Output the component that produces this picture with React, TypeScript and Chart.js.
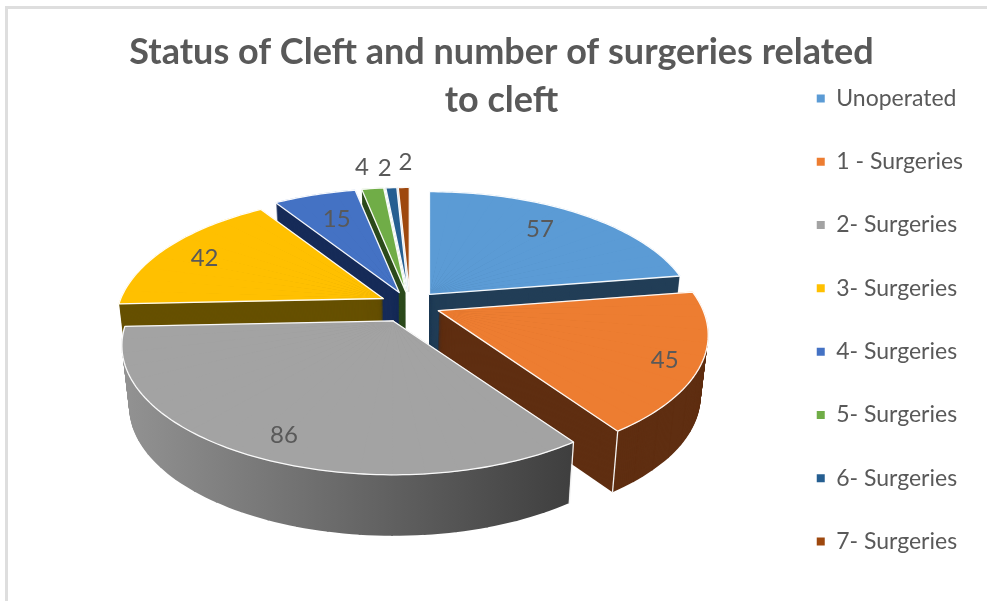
import React, { useEffect, useRef } from "react";
import { Chart, registerables } from "chart.js";

Chart.register(...registerables);

const titleLines = ["Status of Cleft and number of surgeries related", "to cleft"];
const categories = ["Unoperated", "1 - Surgeries", "2- Surgeries", "3- Surgeries", "4- Surgeries", "5- Surgeries", "6- Surgeries", "7- Surgeries"];
const values = [57, 45, 86, 42, 15, 4, 2, 2];
const topColors = ["#5b9bd5", "#ed7d31", "#a3a3a3", "#ffc000", "#4472c4", "#70ad47", "#255e91", "#9e480e"];
const sideColors: (string | string[] | null)[] = ["#223e57", "#5f2e11", ["#929292", "#3e3e3e"], "#665000", "#162b58", "#2c4a1c", null, null];
const explodeRatio = [0.115, 0.115, 0.14, 0.115, 0.11, 0.11, 0.11, 0.11];
const radiusScale = [0.985, 1, 1.005, 0.99, 1, 1, 1, 1];
const labelRadius = [0.78, 0.89, 0.82, 0.83, 0.74, 1.2, 1.21, 1.24];
const labelNudge: [number, number][] = [[-7, -1], [-8, 3], [7, 4], [1, 3], [0, -1], [-4, -1], [-3, 2], [3, 0]];
const paintOrder = [7, 6, 5, 4, 3, 0, 1, 2];

const TEXT = "#595959";
const FONT = "Lato";
const view = { cx: 410, cy: 305, rx: 265, ry: 124, persp: 0.19, depth: 61, shrink: 0.025, gradX0: 125, gradX1: 575 };

type Pt = [number, number];
const project = (X: number, Y: number): Pt => {
  const w = 1 - view.persp * Y;
  return [(view.rx * X) / w, (view.ry * Y) / w];
};
const lift = (p: Pt, t: number): Pt => [view.cx + (p[0] - view.cx) * (1 - view.shrink * t), p[1] + view.depth * t];

const pie3d = {
  id: "pie3d",
  beforeDatasetsDraw(chart: any) {
    const ctx: CanvasRenderingContext2D = chart.ctx;
    const arcs = chart.getDatasetMeta(0).data;

    const apexOf = (arc: any, i: number): Pt => {
      const mid = (arc.startAngle + arc.endAngle) / 2;
      const e = explodeRatio[i];
      const d = project(e * Math.cos(mid), e * Math.sin(mid));
      return [view.cx + d[0], view.cy + d[1]];
    };
    const rimOf = (apex: Pt, a: number, i: number): Pt => {
      const d = project(Math.cos(a), Math.sin(a));
      const s = radiusScale[i];
      return [apex[0] + d[0] * s, apex[1] + d[1] * s];
    };

    const drawWedges = (arc: any, i: number, t: number, fill: string | string[], seal: boolean) => {
      const saved = { s: arc.startAngle, e: arc.endAngle, c: arc.circumference, o: arc.options };
      const apex = apexOf(arc, i);
      const R = arc.outerRadius;
      const total = saved.e - saved.s;
      const n = Math.max(1, Math.ceil(total / (Math.PI / 30)));
      for (let k = 0; k < n; k++) {
        const a1 = saved.s + (total * k) / n;
        const a2 = Math.min(saved.e, saved.s + (total * (k + 1)) / n + 0.006);
        const p0 = lift(apex, t);
        const p1 = lift(rimOf(apex, a1, i), t);
        const p2 = lift(rimOf(apex, a2, i), t);
        const v1x = R * Math.cos(a1), v1y = R * Math.sin(a1);
        const v2x = R * Math.cos(a2), v2y = R * Math.sin(a2);
        const det = v1x * v2y - v2x * v1y;
        const ax = p1[0] - p0[0], ay = p1[1] - p0[1], bx = p2[0] - p0[0], by = p2[1] - p0[1];
        const ma = (ax * v2y - bx * v1y) / det;
        const mc = (-ax * v2x + bx * v1x) / det;
        const mb = (ay * v2y - by * v1y) / det;
        const md = (-ay * v2x + by * v1x) / det;
        const me = p0[0] - ma * arc.x - mc * arc.y;
        const mf = p0[1] - mb * arc.x - md * arc.y;
        ctx.save();
        ctx.transform(ma, mb, mc, md, me, mf);
        let bg: any = fill;
        if (Array.isArray(fill)) {
          const nrm = ma * ma + mc * mc;
          const s0 = view.gradX0 - me, s1 = view.gradX1 - me;
          bg = ctx.createLinearGradient((s0 * ma) / nrm, (s0 * mc) / nrm, (s1 * ma) / nrm, (s1 * mc) / nrm);
          bg.addColorStop(0, fill[0]);
          bg.addColorStop(1, fill[1]);
        }
        arc.startAngle = a1;
        arc.endAngle = a2;
        arc.circumference = a2 - a1;
        arc.options = {
          backgroundColor: bg, borderColor: bg, borderWidth: seal ? 0.8 : 0, borderAlign: "center", borderRadius: 0,
          borderDash: [], borderDashOffset: 0, borderJoinStyle: "round", offset: 0, spacing: 0, circular: true,
        };
        arc.draw(ctx);
        ctx.restore();
      }
      arc.startAngle = saved.s;
      arc.endAngle = saved.e;
      arc.circumference = saved.c;
      arc.options = saved.o;
    };

    for (const i of paintOrder) {
      const arc = arcs[i];
      const apex = apexOf(arc, i);
      const side = sideColors[i];
      if (side) {
        const steps = Math.ceil(view.depth);
        for (let s = steps; s >= 1; s--) drawWedges(arc, i, s / steps, side, false);
        // pale seam on the front-facing corner of the wall
        ctx.strokeStyle = "#f4f4f4";
        ctx.lineWidth = 1.3;
        for (const a of [arc.startAngle, arc.endAngle]) {
          if (Math.sin(a) > 0.4 && Math.cos(a) > 0) {
            const p = rimOf(apex, a, i);
            const q = lift(p, 1);
            ctx.beginPath();
            ctx.moveTo(p[0], p[1]);
            ctx.lineTo(q[0], q[1]);
            ctx.stroke();
          }
        }
      }
      drawWedges(arc, i, 0, topColors[i], true);
      // white rim round the top face
      ctx.beginPath();
      ctx.moveTo(apex[0], apex[1]);
      const n = Math.ceil((arc.endAngle - arc.startAngle) / 0.02);
      for (let k = 0; k <= n; k++) {
        const p = rimOf(apex, arc.startAngle + ((arc.endAngle - arc.startAngle) * k) / n, i);
        ctx.lineTo(p[0], p[1]);
      }
      ctx.closePath();
      ctx.strokeStyle = "rgba(255,255,255,0.95)";
      ctx.lineWidth = 1.3;
      ctx.lineJoin = "round";
      ctx.stroke();
    }

    ctx.save();
    ctx.font = `24px ${FONT}`;
    ctx.fillStyle = TEXT;
    ctx.textAlign = "center";
    ctx.textBaseline = "middle";
    arcs.forEach((arc: any, i: number) => {
      const apex = apexOf(arc, i);
      const mid = (arc.startAngle + arc.endAngle) / 2;
      const d = project(Math.cos(mid), Math.sin(mid));
      const r = labelRadius[i];
      ctx.fillText(String(values[i]), apex[0] + d[0] * r + labelNudge[i][0], apex[1] + d[1] * r + labelNudge[i][1]);
    });
    ctx.restore();
    return false;
  },
};

export default function App() {
  const ref = useRef<HTMLCanvasElement>(null);
  useEffect(() => {
    const chart = new Chart(ref.current as HTMLCanvasElement, {
      type: "pie",
      data: {
        labels: categories,
        datasets: [{ data: values, backgroundColor: topColors, borderWidth: 0 }],
      },
      plugins: [pie3d],
      options: {
        responsive: false,
        animation: false,
        layout: { padding: { left: 30, right: 14, bottom: -39 } },
        plugins: {
          tooltip: { enabled: false },
          title: {
            display: true,
            text: titleLines,
            color: TEXT,
            align: "center",
            font: { family: FONT, size: 36, weight: "bold", lineHeight: 1.333 },
            padding: { top: 28, bottom: -86 },
          },
          legend: {
            display: true,
            position: "right",
            align: "center",
            labels: {
              color: TEXT,
              boxWidth: 8,
              boxHeight: 8,
              padding: 40.3,
              font: { family: FONT, size: 23 },
            },
          },
        },
      } as any,
    });
    return () => chart.destroy();
  }, []);
  return (
    <div style={{ position: "absolute", left: 0, top: 0, width: 987, height: 601, overflow: "hidden", background: "#fff" }}>
      <canvas ref={ref} width={987} height={601} style={{ position: "absolute", left: 0, top: 0, display: "block" }} />
      <div style={{ position: "absolute", left: 5, top: 6, width: 982, height: 595, borderLeft: "3px solid #dedede", borderTop: "3px solid #dedede", boxSizing: "border-box" }} />
    </div>
  );
}
